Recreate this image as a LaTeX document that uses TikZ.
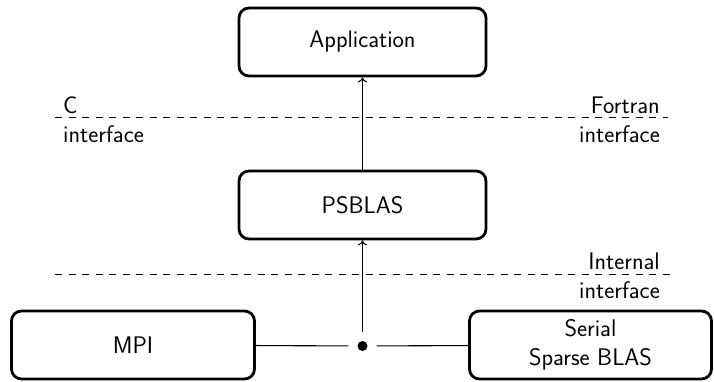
\documentclass[tikz,border=0pt]{standalone}
\usetikzlibrary{arrows.meta}
\begin{document}
\begin{tikzpicture}[x=1pt,y=-1pt,
  font=\sffamily\fontsize{24}{29}\selectfont,
  blockbox/.style={draw, line width=2.8pt, rounded corners=10pt, minimum height=68pt, align=center, inner sep=0pt},
  ifline/.style={line width=1pt, dash pattern=on 7pt off 6.5pt},
  conn/.style={line width=1.1pt},
  arr/.style={conn, -{To[length=5pt,width=9pt]}}]
\useasboundingbox (0,0) rectangle (714,382);
\node[blockbox, minimum width=247pt] (app) at (362.5,42) {Application};
\node[blockbox, minimum width=247pt] (ps) at (362.5,205) {PSBLAS};
\node[blockbox, minimum width=243pt] (mpi) at (133,345) {MPI};
\node[blockbox, minimum width=242pt] (sb) at (590.5,345) {Serial\\Sparse BLAS};
\node[circle, minimum size=28pt, inner sep=0pt] (j) at (362.5,346) {};
\fill (j.center) circle (5pt);
% interface lines
\coordinate (c1) at (55,118);
\coordinate (c2) at (668,118);
\coordinate (i1) at (55,274);
\coordinate (i2) at (670,274);
\draw[ifline] (c1) -- (c2);
\draw[ifline] (i1) -- (i2);
\node[anchor=west, align=left, inner xsep=8pt, inner ysep=0pt] (cif) at ([yshift=-2pt]c1) {C\\interface};
\node[anchor=east, align=right, inner xsep=8pt, inner ysep=0pt] (fif) at ([yshift=-2pt]c2) {Fortran\\interface};
\node[anchor=east, align=right, inner xsep=10pt, inner ysep=0pt] (iif) at ([yshift=-2pt]i2) {Internal\\interface};
% connectors
\draw[arr] (ps) -- (app);
\draw[arr] (j) -- (ps);
\draw[conn] (mpi) -- (j);
\draw[conn] (j) -- (sb);
\end{tikzpicture}
\end{document}
